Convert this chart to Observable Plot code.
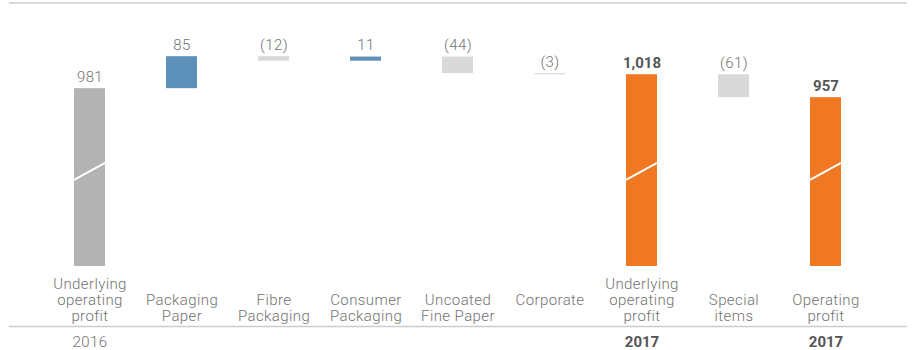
<!DOCTYPE html>
<html><head><meta charset="utf-8">
<script src="https://cdn.jsdelivr.net/npm/d3@7"></script>
<script src="https://cdn.jsdelivr.net/npm/@observablehq/plot@0.6"></script>
<style>body{margin:0;background:#fff} svg{display:block} g.light text{letter-spacing:0.4px}</style>
</head><body><div id="chart"></div>
<script>
const categories = ["Underlying\noperating\nprofit","Packaging\nPaper","Fibre\nPackaging","Consumer\nPackaging","Uncoated\nFine Paper","Corporate","Underlying\noperating\nprofit","Special\nitems","Operating\nprofit"];
const values = [981, 85, -12, 11, -44, -3, 1018, -61, 957];
const kinds = ["total2016","pos","neg","pos","neg","neg","total","neg","total"];
const valueLabels = ["981","85","(12)","11","(44)","(3)","1,018","(61)","957"];
const yearLabels = ["2016","","","","","","2017","","2017"];
const axisBreak = 508; // truncated value axis starts here
const colors = {total2016:"#b3b3b3", pos:"#5e91b9", neg:"#d9d9da", total:"#f07822"};

let running = 0;
const data = categories.map((c, i) => {
  const k = kinds[i];
  let start, end;
  if (k.startsWith("total")) { start = axisBreak; end = values[i]; running = values[i]; }
  else { start = running; end = running + values[i]; running = end; }
  return {id: String(i), label: c, kind: k, start, end, top: Math.max(start, end),
          vlabel: valueLabels[i], year: yearLabels[i], color: colors[k],
          lines: c.split("\n").length};
});
const ids = data.map(d => d.id);

const font = "Roboto, 'Liberation Sans', sans-serif";
const lightFill = "#727272", boldFill = "#555555";

function hrules() {
  const g = d3.create("svg:g").attr("stroke", "#cccccc").attr("stroke-width", 1.5);
  for (const yy of [3, 326.5]) g.append("line").attr("x1", 9).attr("x2", 907).attr("y1", yy).attr("y2", yy);
  return g.node();
}
function slashes(index, scales) {
  const x = scales.x, y = scales.y;
  const bw = typeof x.bandwidth === "function" ? x.bandwidth() : x.bandwidth;
  const g = d3.create("svg:g").attr("stroke", "white").attr("stroke-width", 2);
  for (const d of data.filter(d => d.kind.startsWith("total"))) {
    g.append("line").attr("x1", x(d.id)).attr("x2", x(d.id) + bw)
      .attr("y1", y(737)).attr("y2", y(782));
  }
  return g.node();
}

const light = {fontSize: 15, fontWeight: 300, fill: lightFill, className: "light"};
const bold = {fontSize: 15, fontWeight: 700, fill: boldFill};

const chart = Plot.plot({
  width: 920, height: 350,
  marginLeft: 42.4, marginRight: 47.4, marginTop: 3, marginBottom: 84,
  style: {fontFamily: font, background: "#fff"},
  x: {type: "band", domain: ids, paddingInner: 0.664, paddingOuter: 0.332, axis: null},
  y: {domain: [axisBreak, axisBreak + 263 / 0.376], axis: null},
  color: {type: "identity"},
  marks: [
    hrules,
    Plot.rectY(data, {x: "id", y1: "start", y2: "end", fill: "color"}),
    slashes,
    Plot.text(data.filter(d => d.kind !== "total"), {x: "id", y: "top", text: "vlabel", lineAnchor: "bottom", dy: -7, ...light}),
    Plot.text(data.filter(d => d.kind === "total"), {x: "id", y: "top", text: "vlabel", lineAnchor: "bottom", dy: -7, ...bold}),
    Plot.text(data.filter(d => d.lines < 3), {x: "id", y: () => axisBreak, text: "label", lineAnchor: "top", dy: 27.3, lineHeight: 16/15, ...light}),
    Plot.text(data.filter(d => d.lines >= 3), {x: "id", y: () => axisBreak, text: "label", lineAnchor: "top", dy: 11.3, lineHeight: 16/15, ...light}),
    Plot.text(data.filter(d => d.year && d.kind === "total2016"), {x: "id", y: () => axisBreak, text: "year", lineAnchor: "top", dy: 69.5, ...light}),
    Plot.text(data.filter(d => d.year && d.kind === "total"), {x: "id", y: () => axisBreak, text: "year", lineAnchor: "top", dy: 69.5, ...bold})
  ]
});
document.getElementById("chart").append(chart);
</script>
</body></html>
